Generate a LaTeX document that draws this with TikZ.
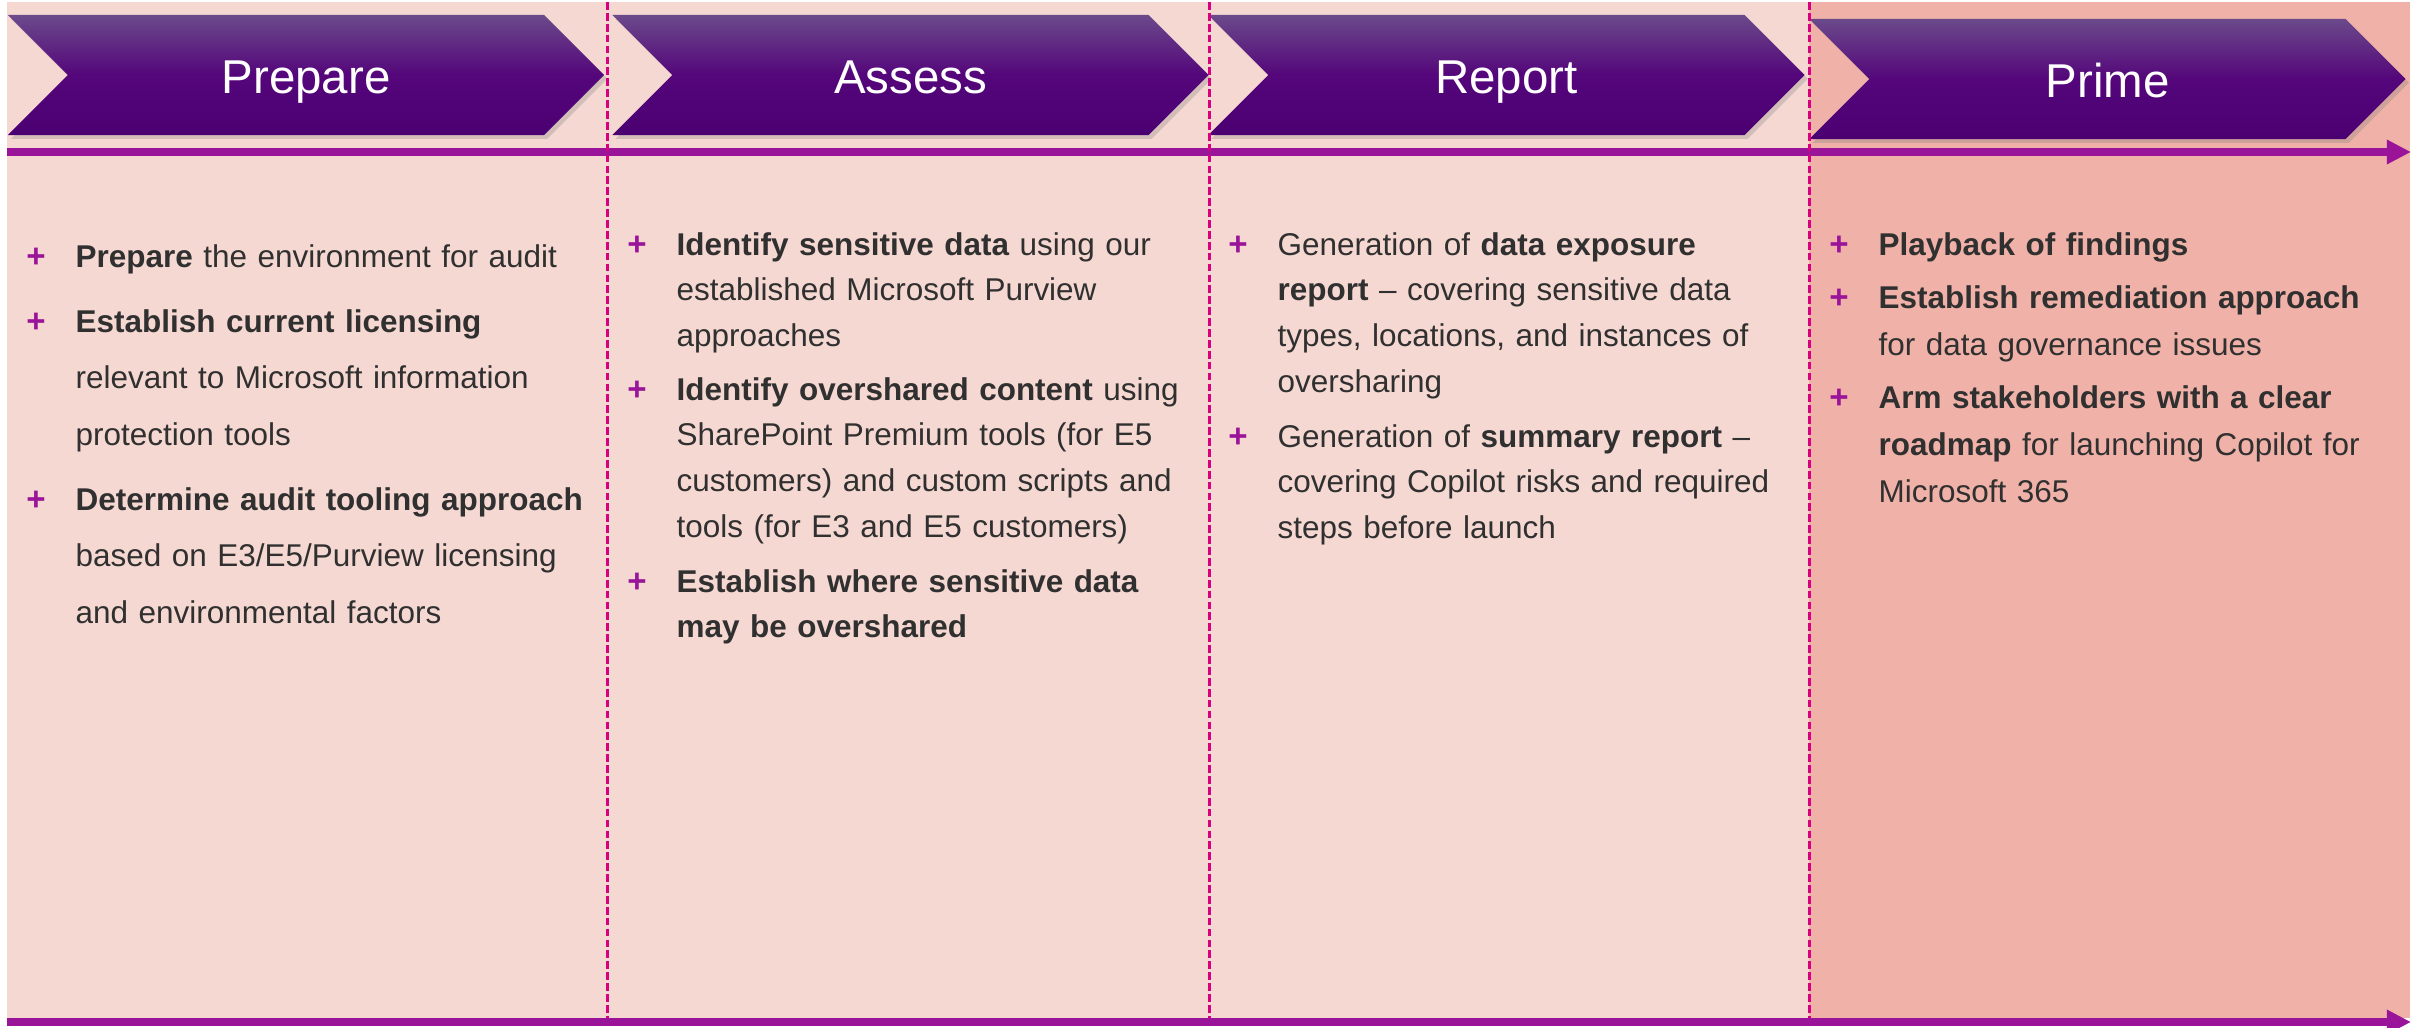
\documentclass[tikz,border=0pt]{standalone}
\usepackage{fontspec}
\setmainfont{Liberation Sans}
\usetikzlibrary{arrows.meta, calc, shapes.symbols, shadows}

\definecolor{bgpink}{HTML}{F6D8D2}
\definecolor{bgprime}{HTML}{F0B2A8}
\definecolor{phasetop}{HTML}{6B4A8B}
\definecolor{phasemid}{HTML}{54067A}
\definecolor{phasebot}{HTML}{4B0072}
\definecolor{flowpurple}{HTML}{9A1499}
\definecolor{divpink}{HTML}{D9007F}
\definecolor{txtgray}{HTML}{303030}

\begin{document}
\begin{tikzpicture}[
    x=0.01cm, y=-0.01cm,
    phase/.style={signal, signal from=west, signal to=east, signal pointer angle=90,
        minimum width=5.96cm, minimum height=1.2cm, inner sep=0pt,
        top color=phasetop, bottom color=phasebot, middle color=phasemid,
        drop shadow={shadow xshift=0.9pt, shadow yshift=-1.1pt, opacity=0.3},
        text=white, font=\fontsize{13.5pt}{16pt}\selectfont,
        text height=10.24pt, text depth=0pt},
    entry/.style={anchor=base west, inner sep=0pt, text width=5.6cm, align=left,
        text=txtgray, font=\fontsize{8.95pt}{#1}\selectfont},
    plusmark/.style={anchor=base, inner sep=0pt, text=flowpurple,
        font=\fontsize{9.4pt}{11pt}\selectfont\bfseries},
    flow/.style={line width=2.3pt, flowpurple, -{Triangle[length=6.9pt, width=6.6pt]}},
    divider/.style={divpink, line width=0.85pt, dash pattern=on 2.2pt off 0.9pt}
]

    \useasboundingbox (0,0) rectangle (2418,1027);

    % Background panels
    \fill[bgpink] (7,2) rectangle (2410,1018);
    \fill[bgprime] (1809,2) rectangle (2410,1018);

    % Timeline arrows (top and bottom)
    \coordinate (topstart) at (7,152);
    \coordinate (topend) at (2411,152);
    \coordinate (botstart) at (7,1022);
    \coordinate (botend) at (2411,1022);
    \draw[flow] (topstart) -- (topend);
    \draw[flow] (botstart) -- (botend);

    % Phase chevrons
    \node[phase] (prepare) at (306,75) {Prepare};
    \node[phase] (assess) at (910.5,75) {Assess};
    \node[phase] (report) at (1506.5,75) {Report};
    \node[phase] (prime) at (2107.5,79) {Prime};

    % Column dividers
    \foreach \x in {607,1209,1809}
        \draw[divider] (\x,2) -- (\x,1018);

    % Prepare
    \node[entry=16.2pt] (prep1) at (75,267) {\textbf{Prepare} the environment for audit};
    \node[entry=16.2pt] (prep2) at (75,332) {\textbf{Establish current licensing}\\
        relevant to Microsoft information\\protection tools};
    \node[entry=16.2pt] (prep3) at (75,510) {\textbf{Determine audit tooling approach}\\
        based on E3/E5/Purview licensing\\and environmental factors};

    % Assess
    \node[entry=13pt] (asse1) at (676,255) {\textbf{Identify sensitive data} using our\\
        established Microsoft Purview\\approaches};
    \node[entry=13pt] (asse2) at (676,400) {\textbf{Identify overshared content} using\\
        SharePoint Premium tools (for E5\\customers) and custom scripts and\\
        tools (for E3 and E5 customers)};
    \node[entry=13pt] (asse3) at (676,592) {\textbf{Establish where sensitive data}\\
        \textbf{may be overshared}};

    % Report
    \node[entry=13pt] (repo1) at (1277,255) {Generation of \textbf{data exposure}\\
        \textbf{report} – covering sensitive data\\types, locations, and instances of\\
        oversharing};
    \node[entry=13pt] (repo2) at (1277,447) {Generation of \textbf{summary report} –\\
        covering Copilot risks and required\\steps before launch};

    % Prime
    \node[entry=13.4pt] (prim1) at (1878,255) {\textbf{Playback of findings}};
    \node[entry=13.4pt] (prim2) at (1878,308) {\textbf{Establish remediation approach}\\
        for data governance issues};
    \node[entry=13.4pt] (prim3) at (1878,408) {\textbf{Arm stakeholders with a clear}\\
        \textbf{roadmap} for launching Copilot for\\Microsoft 365};

    % Bullet marks
    \foreach \n in {prep1,prep2,prep3,asse1,asse2,asse3,repo1,repo2,prim1,prim2,prim3}
        \node[plusmark] (\n plus) at ($(\n.base west)+(-39,0)$) {+};

\end{tikzpicture}
\end{document}
